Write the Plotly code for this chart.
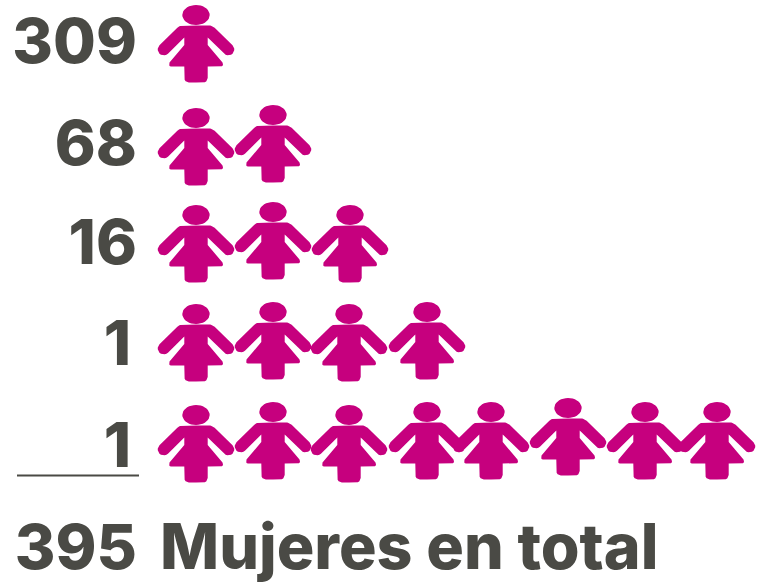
import math
import plotly.graph_objects as go

# --- data ---
row_labels = ["309", "68", "16", "1", "1"]
icon_counts = [1, 2, 3, 4, 8]
total_label = "395"
total_text = "Mujeres en total"

# --- placement of each icon in a row (page scale) ---
row_icon_x = [
    [196],
    [196, 273],
    [196, 273, 350],
    [196, 273, 349, 427],
    [196, 273, 349, 427, 491, 568, 645, 717],
]
row_icon_y = [
    [15],
    [118, 115],
    [215, 212, 215],
    [314, 312, 314, 312],
    [415, 412, 415, 412, 412, 408, 412, 412],
]
label_x = [137, 137, 137, 131, 131]
label_y = [47, 149, 248, 349, 451]
PINK = "#C6007E"
GREY = "#4A4A45"
FONT = "Inter"
WEIGHT = 800


def arc(cx, cy, r, a0, a1, n=8):
    return [(cx + r * math.cos(math.radians(a0 + (a1 - a0) * i / n)),
             cy + r * math.sin(math.radians(a0 + (a1 - a0) * i / n))) for i in range(n + 1)]


left = (
    [(0, 10.5), (-13, 10.5)]
    + arc(-13, 18.5, 8, 270, 225, 5)
    + arc(-32.3, 34.4, 6, 225, 45, 10)
    + [(-11.7, 22.5), (-11.7, 30), (-26.5, 47.5)]
    + arc(-25, 49.5, 2, 180, 90, 3)
    + [(-11.7, 51.5), (-11.7, 63)]
    + arc(-7.2, 63, 4.5, 180, 90, 4)
    + [(0, 67.5)]
)
body = left + [(-x, y) for x, y in reversed(left)]
head = [(13.7 * math.cos(2 * math.pi * i / 36), 10 * math.sin(2 * math.pi * i / 36)) for i in range(37)]

xs, ys = [], []
for count, cxs, cys in zip(icon_counts, row_icon_x, row_icon_y):
    for cx, cy in zip(cxs[:count], cys[:count]):
        for shape in (body, head):
            xs += [cx + p[0] for p in shape] + [None]
            ys += [cy + p[1] for p in shape] + [None]

fig = go.Figure()
fig.add_trace(go.Scatter(x=xs, y=ys, mode="lines", fill="toself", fillcolor=PINK,
                         line=dict(color=PINK, width=0), hoverinfo="skip", showlegend=False))
fig.add_trace(go.Scatter(x=[17, 139], y=[475.5, 475.5], mode="lines",
                         line=dict(color=GREY, width=2), hoverinfo="skip", showlegend=False))
font = dict(family=FONT, size=62, color=GREY, weight=WEIGHT)
fig.add_trace(go.Scatter(x=label_x, y=label_y, mode="text", text=row_labels,
                         textposition="middle left", textfont=font, hoverinfo="skip", showlegend=False))
fig.add_trace(go.Scatter(x=[137], y=[553], mode="text", text=[total_label],
                         textposition="middle left", textfont=font, hoverinfo="skip", showlegend=False))
fig.add_trace(go.Scatter(x=[160], y=[553], mode="text", text=[total_text],
                         textposition="middle right", textfont=dict(font, size=62.7),
                         hoverinfo="skip", showlegend=False))
fig.update_layout(
    width=758, height=584, margin=dict(l=0, r=0, t=0, b=0),
    paper_bgcolor="white", plot_bgcolor="white",
    xaxis=dict(range=[0, 758], visible=False, fixedrange=True),
    yaxis=dict(range=[584, 0], visible=False, fixedrange=True),
)
fig.write_html("out.html", config=dict(displayModeBar=False),
               post_script="document.body.style.margin='0';document.documentElement.style.overflow='hidden';")
